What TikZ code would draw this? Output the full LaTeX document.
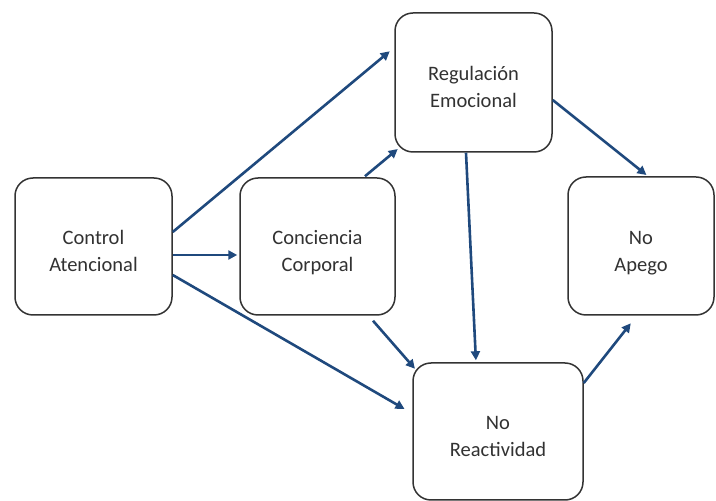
\documentclass[tikz,border=0pt]{standalone}
\usepackage{fontspec}
\setmainfont{Carlito}
\usetikzlibrary{arrows.meta}
\definecolor{arrowblue}{RGB}{31,73,125}
\definecolor{boxtext}{RGB}{50,50,50}

\begin{document}
\begin{tikzpicture}[x=1pt,y=1pt,
  box/.style={draw=black!80,line width=1.5pt,rounded corners=18pt,fill=white,
    text=boxtext,align=center,font=\fontsize{20.5}{27}\selectfont,inner sep=0pt,
    text height=51pt,text depth=0pt},
  link/.style={draw=arrowblue,line width=2.6pt,-{Triangle[length=9pt,width=9pt]},shorten >=2pt}]
\useasboundingbox (0,0) rectangle (716,501);

\node[box,minimum width=157pt,minimum height=137pt] (ctrl) at (93.5,254.5) {Control\\Atencional};
\node[box,minimum width=155pt,minimum height=137pt] (conc) at (317.5,254.5) {Conciencia\\Corporal};
\node[box,minimum width=157pt,minimum height=139pt] (reg) at (473.5,418.5) {Regulación\\Emocional};
\node[box,minimum width=146pt,minimum height=138pt] (apego) at (641,255) {No\\Apego};
\node[box,minimum width=170pt,minimum height=137pt] (react) at (498,69.5) {No\\Reactividad};

\draw[link] ([yshift=14.5pt]ctrl.east) -- ([shift={(-3pt,32.5pt)}]reg.west);
\draw[link] ([yshift=-8.5pt]ctrl.east) -- ([yshift=-8.5pt]conc.west);
\draw[link] ([yshift=-28.5pt]ctrl.east) -- ([shift={(-6pt,21.5pt)}]react.west);
\draw[link] ([shift={(47.5pt,1pt)}]conc.north) -- ([shift={(5pt,5pt)}]reg.south west);
\draw[link] ([xshift=-7.5pt]reg.south) -- ([xshift=-22pt]react.north);
\draw[link] ([yshift=-17.5pt]reg.east) -- ([xshift=7pt]apego.north);
\draw[link] ([shift={(55.5pt,-5pt)}]conc.south) -- ([shift={(4pt,-8pt)}]react.north west);
\draw[link] ([yshift=48.5pt]react.east) -- ([shift={(-9pt,-6pt)}]apego.south);
\end{tikzpicture}
\end{document}
